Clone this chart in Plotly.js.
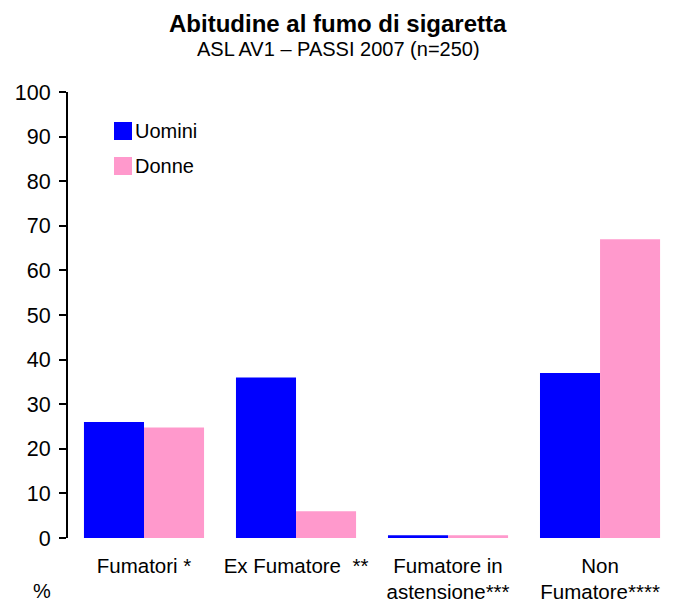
<!DOCTYPE html>
<html>
<head>
<meta charset="utf-8">
<script src="https://cdn.plot.ly/plotly-3.0.1.min.js"></script>
<style>html,body{margin:0;padding:0;background:#fff;}#chart{width:673px;height:605px;}</style>
</head>
<body>
<div id="chart"></div>
<script>
const categories = ["Fumatori *", "Ex Fumatore  **", "Fumatore in<br>astensione***", "Non<br>Fumatore****"];
const uomini = [26, 36, 0.6, 37];
const donne = [24.8, 6, 0.6, 67];
const seriesNames = ["Uomini", "Donne"];
const seriesColors = ["#0000FF", "#FF99CC"];
const yTicks = [0, 10, 20, 30, 40, 50, 60, 70, 80, 90, 100];

const FONT = "Liberation Sans, Arial, sans-serif";
const xIdx = categories.map((c, i) => i);

const traces = [
  {type: "bar", name: seriesNames[0], x: xIdx, y: uomini, marker: {color: seriesColors[0]}},
  {type: "bar", name: seriesNames[1], x: xIdx, y: donne, marker: {color: seriesColors[1]}}
];

// custom legend (squares + labels) to match reference spacing
const legShapes = [];
const legAnn = [];
const legSq = [[0.9327, 0.8924], [0.8543, 0.8139]];
seriesNames.forEach((n, i) => {
  legShapes.push({type: "rect", xref: "paper", yref: "paper", x0: 0.076, x1: 0.1058, y0: legSq[i][1], y1: legSq[i][0], fillcolor: seriesColors[i], line: {width: 0}});
  legAnn.push({text: n, xref: "paper", yref: "paper", x: 0.108, y: (legSq[i][0] + legSq[i][1]) / 2, xanchor: "left", yanchor: "middle", showarrow: false, font: {size: 20, family: FONT}});
});

const layout = {
  width: 673, height: 605,
  margin: {l: 68, r: 0, t: 92, b: 67},
  paper_bgcolor: "#fff", plot_bgcolor: "#fff",
  font: {family: FONT, color: "#000"},
  barmode: "group", bargap: 0.21, bargroupgap: 0,
  showlegend: false,
  xaxis: {
    range: [-0.5, 3.48], tickmode: "array", tickvals: xIdx, ticktext: categories,
    showline: false, showgrid: false, zeroline: false, ticks: "",
    tickfont: {size: 20.5, family: FONT}, ticklabelstandoff: 13, fixedrange: true
  },
  yaxis: {
    range: [0, 100], tickmode: "array", tickvals: yTicks, ticktext: yTicks.map(String),
    showline: true, linecolor: "#000", linewidth: 2, ticks: "outside", ticklen: 7, tickwidth: 2, tickcolor: "#000",
    showgrid: false, zeroline: false, tickfont: {size: 21.5, family: FONT}, ticklabelstandoff: 4
  },
  shapes: legShapes,
  annotations: [
    {text: "<b>Abitudine al fumo di sigaretta</b>", xref: "paper", yref: "paper", x: 0.447, y: 1, yshift: 69, xanchor: "center", yanchor: "middle", showarrow: false, font: {size: 24, family: FONT}},
    {text: "ASL AV1 – PASSI 2007 (n=250)", xref: "paper", yref: "paper", x: 0.447, y: 1, yshift: 43, xanchor: "center", yanchor: "middle", showarrow: false, font: {size: 20, family: FONT}},
    {text: "%", xref: "paper", yref: "paper", x: -0.043, y: -0.119, xanchor: "center", yanchor: "middle", showarrow: false, font: {size: 20, family: FONT}}
  ].concat(legAnn)
};

Plotly.newPlot("chart", traces, layout, {displayModeBar: false, staticPlot: true});
</script>
</body>
</html>
